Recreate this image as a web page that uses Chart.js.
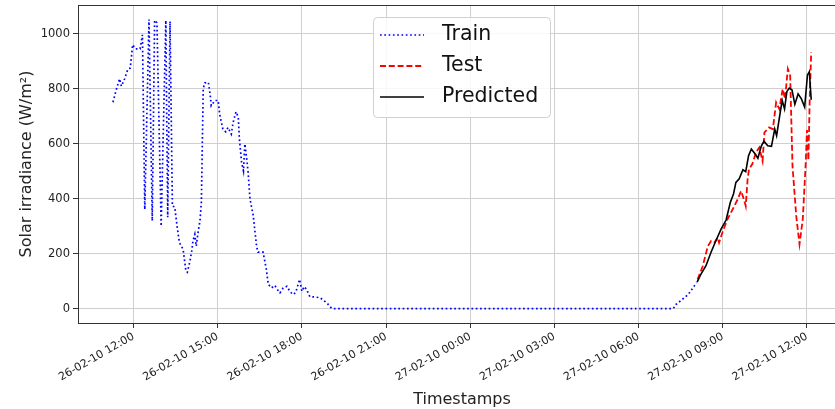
<!DOCTYPE html>
<html>
<head>
<meta charset="utf-8">
<script src="https://cdn.jsdelivr.net/npm/chart.js@4.4.1/dist/chart.umd.min.js"></script>
<style>
  html, body { margin: 0; padding: 0; background: #fff; overflow: hidden; width: 835px; height: 409px; }
  #chart { position: absolute; left: 0; top: 0; }
</style>
</head>
<body>
<canvas id="chart" width="850" height="409"></canvas>
<script>
const trainTimes = [
  "26-02-10 11:16", "26-02-10 11:22", "26-02-10 11:30", "26-02-10 11:34", "26-02-10 11:41",
  "26-02-10 11:48", "26-02-10 11:53", "26-02-10 11:58", "26-02-10 12:04", "26-02-10 12:14",
  "26-02-10 12:19", "26-02-10 12:24", "26-02-10 12:33", "26-02-10 12:40", "26-02-10 12:45",
  "26-02-10 12:50", "26-02-10 12:59", "26-02-10 13:09", "26-02-10 13:13", "26-02-10 13:18",
  "26-02-10 13:23", "26-02-10 13:28", "26-02-10 13:33", "26-02-10 13:38", "26-02-10 13:46",
  "26-02-10 13:52", "26-02-10 13:55", "26-02-10 14:00", "26-02-10 14:04", "26-02-10 14:07",
  "26-02-10 14:11", "26-02-10 14:14", "26-02-10 14:18", "26-02-10 14:22", "26-02-10 14:25",
  "26-02-10 14:29", "26-02-10 14:32", "26-02-10 14:40", "26-02-10 14:44", "26-02-10 14:46",
  "26-02-10 14:54", "26-02-10 15:01", "26-02-10 15:04", "26-02-10 15:11", "26-02-10 15:17",
  "26-02-10 15:22", "26-02-10 15:29", "26-02-10 15:33", "26-02-10 15:39", "26-02-10 15:44",
  "26-02-10 15:46", "26-02-10 15:51", "26-02-10 15:55", "26-02-10 15:58", "26-02-10 16:02",
  "26-02-10 16:05", "26-02-10 16:09", "26-02-10 16:16", "26-02-10 16:23", "26-02-10 16:26",
  "26-02-10 16:37", "26-02-10 16:44", "26-02-10 16:48", "26-02-10 16:55", "26-02-10 17:02",
  "26-02-10 17:10", "26-02-10 17:13", "26-02-10 17:20", "26-02-10 17:28", "26-02-10 17:35",
  "26-02-10 17:42", "26-02-10 17:47", "26-02-10 17:55", "26-02-10 18:00", "26-02-10 18:05",
  "26-02-10 18:10", "26-02-10 18:17", "26-02-10 18:28", "26-02-10 18:39", "26-02-10 18:53",
  "26-02-10 19:04", "27-02-10 07:14", "27-02-10 07:20", "27-02-10 07:31", "27-02-10 07:46",
  "27-02-10 08:04"
];
const trainValues = [
  751, 790, 836, 809, 836,
  872, 875, 960, 945, 945,
  996, 361, 1052, 319, 1049,
  1040, 300, 1049, 332, 1045,
  373, 370, 300, 240, 215,
  136, 132, 168, 204, 246,
  270, 227, 277, 319, 386,
  799, 821, 823, 775, 738,
  757, 757, 708, 653, 643,
  659, 635, 678, 716, 696,
  623, 532, 501, 599, 544,
  495, 398, 337, 227, 205,
  205, 142, 88, 75, 84,
  63, 57, 75, 81, 60,
  51, 60, 106, 63, 80,
  69, 43, 42, 39, 21,
  0, 0, 15, 30, 51,
  94
];

const testTimes = [
  "27-02-10 08:06", "27-02-10 08:17", "27-02-10 08:28", "27-02-10 08:35", "27-02-10 08:42",
  "27-02-10 08:49", "27-02-10 08:52", "27-02-10 08:59", "27-02-10 09:10", "27-02-10 09:21",
  "27-02-10 09:32", "27-02-10 09:39", "27-02-10 09:45", "27-02-10 09:49", "27-02-10 09:53",
  "27-02-10 09:56", "27-02-10 10:03", "27-02-10 10:11", "27-02-10 10:18", "27-02-10 10:25",
  "27-02-10 10:29", "27-02-10 10:39", "27-02-10 10:47", "27-02-10 10:54", "27-02-10 11:01",
  "27-02-10 11:08", "27-02-10 11:13", "27-02-10 11:19", "27-02-10 11:24", "27-02-10 11:29",
  "27-02-10 11:37", "27-02-10 11:44", "27-02-10 11:51", "27-02-10 11:57", "27-02-10 12:00",
  "27-02-10 12:03", "27-02-10 12:06", "27-02-10 12:09"
];
const testValues = [
  106, 154, 227, 246, 240,
  258, 240, 276, 325, 361,
  398, 428, 398, 373, 471,
  507, 526, 568, 586, 537,
  641, 659, 653, 750, 726,
  799, 763, 872, 848, 519,
  337, 234, 325, 520, 650,
  540, 775, 933
];

const predictedTimes = [
  "27-02-10 08:05", "27-02-10 08:13", "27-02-10 08:24", "27-02-10 08:35", "27-02-10 08:45",
  "27-02-10 08:56", "27-02-10 09:07", "27-02-10 09:16", "27-02-10 09:23", "27-02-10 09:28",
  "27-02-10 09:35", "27-02-10 09:43", "27-02-10 09:49", "27-02-10 09:55", "27-02-10 10:01",
  "27-02-10 10:08", "27-02-10 10:15", "27-02-10 10:22", "27-02-10 10:28", "27-02-10 10:36",
  "27-02-10 10:44", "27-02-10 10:51", "27-02-10 10:55", "27-02-10 11:03", "27-02-10 11:07",
  "27-02-10 11:12", "27-02-10 11:17", "27-02-10 11:22", "27-02-10 11:28", "27-02-10 11:34",
  "27-02-10 11:41", "27-02-10 11:48", "27-02-10 11:55", "27-02-10 12:01", "27-02-10 12:05",
  "27-02-10 12:09"
];
const predictedValues = [
  96, 124, 156, 206, 246,
  288, 322, 386, 418, 459,
  472, 505, 498, 556, 580,
  565, 547, 590, 609, 592,
  590, 653, 629, 717, 757,
  726, 790, 802, 795, 743,
  781, 763, 733, 850, 862,
  760
];

const xTickLabels = [
  "26-02-10 12:00", "26-02-10 15:00", "26-02-10 18:00", "26-02-10 21:00",
  "27-02-10 00:00", "27-02-10 03:00", "27-02-10 06:00", "27-02-10 09:00", "27-02-10 12:00"
];
const yTicks = [0, 200, 400, 600, 800, 1000];

// "dd-mm-yy HH:MM" -> hours since 26-02-10 00:00
function toHours(s) {
  const day = parseInt(s.slice(0, 2), 10);
  const hh = parseInt(s.slice(9, 11), 10);
  const mm = parseInt(s.slice(12, 14), 10);
  return (day - 26) * 24 + hh + mm / 60;
}

function points(times, values) {
  return times.map((t, i) => ({ x: toHours(t), y: values[i] }));
}

const FONT = "'DejaVu Sans', 'Liberation Sans', sans-serif";

const framePlugin = {
  id: "frame",
  afterDatasetsDraw(chart) {
    const { ctx, chartArea } = chart;
    ctx.save();
    ctx.strokeStyle = "#333333";
    ctx.lineWidth = 1;
    ctx.strokeRect(Math.round(chartArea.left) + 0.5, Math.round(chartArea.top) + 0.5,
      Math.round(chartArea.right - chartArea.left), Math.round(chartArea.bottom - chartArea.top));
    ctx.restore();
  },
  afterDraw(chart) {
    // legend box inside the plot, like matplotlib's
    const ctx = chart.ctx;
    const bx = 373, by = 17, bw = 177, bh = 100;
    ctx.save();
    ctx.beginPath();
    ctx.roundRect(bx + 0.5, by + 0.5, bw, bh, 4);
    ctx.fillStyle = "rgba(255,255,255,0.85)";
    ctx.fill();
    ctx.strokeStyle = "#d0d0d0";
    ctx.lineWidth = 1;
    ctx.stroke();
    [0, 1, 2].forEach((di, k) => {
      const ds = chart.data.datasets[di];
      const y = by + 18 + k * 31;
      ctx.beginPath();
      ctx.setLineDash(ds.borderDash || []);
      ctx.strokeStyle = ds.borderColor;
      ctx.lineWidth = ds.borderWidth;
      ctx.moveTo(380, y);
      ctx.lineTo(424, y);
      ctx.stroke();
      ctx.setLineDash([]);
      ctx.fillStyle = "#111111";
      ctx.font = "20.5px " + FONT;
      ctx.textBaseline = "middle";
      ctx.textAlign = "left";
      ctx.fillText(ds.label, 442, y);
    });
    ctx.restore();
  }
};

const ctx = document.getElementById("chart").getContext("2d");
new Chart(ctx, {
  type: "line",
  data: {
    datasets: [
      {
        label: "Train",
        data: points(trainTimes, trainValues),
        borderColor: "#0000ff",
        borderWidth: 1.7,
        borderDash: [1.7, 2.6],
        pointRadius: 0,
        tension: 0,
        order: 3
      },
      {
        label: "Test",
        data: points(testTimes, testValues),
        borderColor: "#ff0000",
        borderWidth: 1.8,
        borderDash: [6, 2.8],
        pointRadius: 0,
        tension: 0,
        order: 2
      },
      {
        label: "Predicted",
        data: points(predictedTimes, predictedValues),
        borderColor: "#000000",
        borderWidth: 1.6,
        pointRadius: 0,
        tension: 0,
        order: 1
      }
    ]
  },
  options: {
    responsive: false,
    animation: false,
    layout: { padding: { top: 5, right: 4, left: 0, bottom: 0 } },
    plugins: {
      legend: { display: false },
      tooltip: { enabled: false }
    },
    scales: {
      x: {
        type: "linear",
        min: 10.02,
        max: 37.39,
        afterBuildTicks(scale) {
          scale.ticks = xTickLabels.map((l) => ({ value: toHours(l) }));
        },
        afterFit(scale) {
          scale.height = 86;
          scale.paddingLeft = 0;
          scale.paddingRight = 0;
        },
        ticks: {
          autoSkip: false,
          maxRotation: 30,
          minRotation: 30,
          padding: 2,
          color: "#222222",
          font: { family: FONT, size: 11 },
          callback: (value, index) => xTickLabels[index]
        },
        grid: {
          color: "#cfcfcf",
          lineWidth: 1,
          tickLength: 5,
          tickColor: "#333333"
        },
        border: { display: false },
        title: {
          display: true,
          text: "Timestamps",
          color: "#222222",
          font: { family: FONT, size: 16 },
          padding: { top: 0, bottom: 0 }
        }
      },
      y: {
        min: -52.6,
        max: 1104.6,
        afterBuildTicks(scale) {
          scale.ticks = yTicks.map((v) => ({ value: v }));
        },
        afterFit(scale) {
          scale.width = 78;
          scale.paddingTop = 0;
          scale.paddingBottom = 0;
        },
        ticks: {
          padding: 3,
          color: "#222222",
          font: { family: FONT, size: 11.5 },
          callback: (value) => String(value)
        },
        grid: {
          color: "#cfcfcf",
          lineWidth: 1,
          tickLength: 5,
          tickColor: "#333333"
        },
        border: { display: false },
        title: {
          display: true,
          text: "Solar irradiance (W/m²)",
          color: "#222222",
          font: { family: FONT, size: 16 },
          padding: { top: 17, bottom: 0 }
        }
      }
    }
  },
  plugins: [framePlugin]
});
</script>
</body>
</html>
